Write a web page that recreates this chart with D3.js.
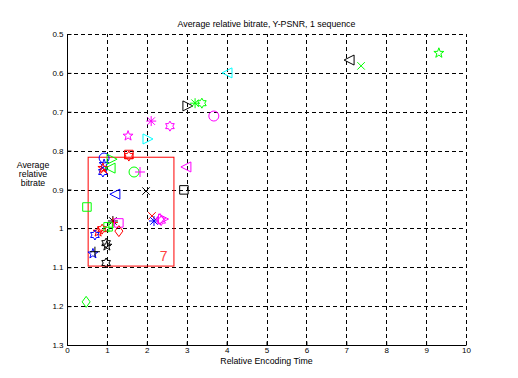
<!DOCTYPE html>
<html><head><meta charset="utf-8">
<script src="https://cdn.jsdelivr.net/npm/d3@7"></script>
<style>
body{margin:0;background:#fff;}
svg{display:block;}
text{font-family:"Liberation Sans",Arial,sans-serif;}
</style></head>
<body>
<script>
// ---- data ----
const title = "Average relative bitrate, Y-PSNR, 1 sequence";
const xLabel = "Relative Encoding Time";
const yLabelLines = ["Average", "relative", "bitrate"];
const xTicks = [0,1,2,3,4,5,6,7,8,9,10];
const yTicks = [0.5,0.6,0.7,0.8,0.9,1,1.1,1.2,1.3];
const yTickLabels = ["0.5","0.6","0.7","0.8","0.9","1","1.1","1.2","1.3"];

// each point: series key (colour+marker), x, y
const pointSeries = [
 "k-tri-left","g-x","g-pentagram","c-tri-left","k-tri-right","g-asterisk","g-hexagram",
 "m-circle","m-asterisk","m-hexagram","m-pentagram","c-tri-right","r-hexagram","r-square",
 "m-tri-left","g-circle","m-plus","b-circle","b-pentagram","b-hexagram","r-x","r-pentagram",
 "g-tri-right","g-tri-left","b-tri-left","k-x","k-square","g-square","r-x","b-asterisk",
 "m-diamond","m-tri-right","m-hexagram","k-asterisk","r-plus","m-square","r-diamond","g-square",
 "r-hexagram","r-pentagram","b-hexagram","k-hexagram","k-pentagram","b-pentagram","k-plus",
 "k-hexagram","g-diamond","g-plus"
];
const pointX = [
 7.07,7.37,9.32,4.01,3.03,3.21,3.38,
 3.68,2.11,2.58,1.53,2.03,1.55,1.55,
 2.98,1.68,1.83,0.93,0.93,0.90,0.93,0.90,
 1.13,1.08,1.20,1.98,2.93,0.50,2.13,2.18,
 2.33,2.42,2.36,1.15,1.15,1.30,1.30,1.03,
 0.88,0.78,0.70,0.98,1.00,0.65,0.70,
 0.98,0.48,1.05
];
const pointY = [
 0.567,0.582,0.549,0.600,0.685,0.678,0.678,
 0.711,0.724,0.737,0.762,0.770,0.814,0.810,
 0.842,0.855,0.855,0.819,0.835,0.855,0.850,0.845,
 0.822,0.845,0.912,0.904,0.901,0.945,0.968,0.981,
 0.976,0.976,0.980,0.981,0.985,0.986,1.007,0.996,
 1.002,1.009,1.017,1.038,1.045,1.065,1.060,
 1.089,1.189,0.997
];
const zoomBox = {x0:0.53, x1:2.68, y0:0.817, y1:1.097};
const zoomLabel = "7";
const zoomLabelPos = [2.42, 1.075];

// ---- styles ----
const colors = {k:"#000000", g:"#00ff00", m:"#ff00ff", c:"#00ffff", b:"#0000ff", r:"#ff0000"};

const W = 518, H = 378;
const M = {left:67, right:52, top:34, bottom:33};
const svg = d3.select("body").append("svg").attr("width",W).attr("height",H);

const x = d3.scaleLinear().domain([0,10]).range([M.left, W-M.right]);
const y = d3.scaleLinear().domain([0.5,1.3]).range([M.top, H-M.bottom]);

// grid
const grid = svg.append("g").attr("stroke","#000").attr("stroke-width",1).attr("stroke-dasharray","4,3").attr("shape-rendering","crispEdges");
grid.selectAll(".vx").data(xTicks.filter(d=>d>0)).join("line")
  .attr("x1",d=>Math.round(x(d))+0.5).attr("x2",d=>Math.round(x(d))+0.5)
  .attr("y1",y(1.3)).attr("y2",y(0.5));
grid.selectAll(".hy").data(yTicks.filter(d=>d<1.3)).join("line")
  .attr("y1",d=>Math.round(y(d))+0.5).attr("y2",d=>Math.round(y(d))+0.5)
  .attr("x1",x(0)).attr("x2",x(10));

// axes
const xAxis = d3.axisBottom(x).tickValues(xTicks).tickSize(-4).tickPadding(2).tickFormat(d3.format("d"));
const yAxis = d3.axisLeft(y).tickValues(yTicks).tickSize(-4).tickPadding(4).tickFormat((d,i)=>yTickLabels[i]);
const gx = svg.append("g").attr("transform",`translate(0,${Math.round(y(1.3))+0.5})`).call(xAxis);
const gy = svg.append("g").attr("transform",`translate(${Math.round(x(0))+0.5},0)`).call(yAxis);
[gx,gy].forEach(g=>{
  g.select(".domain").attr("stroke","#000");
  g.selectAll("line").attr("stroke","#000");
  g.selectAll("text").attr("font-size",8).attr("fill","#000");
});
gy.select(".domain").attr("d",`M0,${y(1.3)}V${y(0.5)}`);
gx.select(".domain").attr("d",`M${x(0)},0H${x(10)}`);

// zoom rectangle
svg.append("rect")
  .attr("x",x(zoomBox.x0)).attr("y",y(zoomBox.y0))
  .attr("width",x(zoomBox.x1)-x(zoomBox.x0)).attr("height",y(zoomBox.y1)-y(zoomBox.y0))
  .attr("fill","none").attr("stroke","#ff0000").attr("stroke-width",1);
svg.append("text").attr("x",x(zoomLabelPos[0])).attr("y",y(zoomLabelPos[1]))
  .attr("text-anchor","middle").attr("dominant-baseline","middle")
  .attr("font-size",14).attr("fill","#ff4040").text(zoomLabel);

// marker paths
const R = 5;
function star(n, ro, ri, rot){
  const pts=[];
  for(let i=0;i<2*n;i++){
    const a = rot + i*Math.PI/n;
    const r = i%2===0?ro:ri;
    pts.push([r*Math.sin(a), -r*Math.cos(a)]);
  }
  return "M"+pts.map(p=>p[0].toFixed(2)+","+p[1].toFixed(2)).join("L")+"Z";
}
function markerPath(shape){
  const r=R;
  switch(shape){
    case "circle": return `M${r},0A${r},${r} 0 1,1 ${-r},0A${r},${r} 0 1,1 ${r},0Z`;
    case "square": {const s=r*0.85; return `M${-s},${-s}H${s}V${s}H${-s}Z`;}
    case "diamond": return `M0,${-r*1.1}L${r*0.8},0L0,${r*1.1}L${-r*0.8},0Z`;
    case "tri-left": return `M${-r},0L${r},${-r}L${r},${r}Z`;
    case "tri-right": return `M${r},0L${-r},${-r}L${-r},${r}Z`;
    case "pentagram": return star(5, r*1.05, r*0.42, 0);
    case "hexagram": return star(6, r*1.0, r*0.58, 0);
    case "plus": return `M${-r},0H${r}M0,${-r}V${r}`;
    case "x": {const s=r*0.75; return `M${-s},${-s}L${s},${s}M${-s},${s}L${s},${-s}`;}
    case "asterisk": {const s=r*0.75; return `M${-r},0H${r}M0,${-r}V${r}M${-s},${-s}L${s},${s}M${-s},${s}L${s},${-s}`;}
  }
  return "";
}

const pts = pointSeries.map((s,i)=>({c:s.split("-")[0], shape:s.slice(2), x:pointX[i], y:pointY[i]}));
svg.append("g").selectAll("path").data(pts).join("path")
  .attr("transform",d=>`translate(${x(d.x)},${y(d.y)})`)
  .attr("d",d=>markerPath(d.shape))
  .attr("fill","none").attr("stroke",d=>colors[d.c]).attr("stroke-width",1);

// labels
svg.append("text").attr("x",(x(0)+x(10))/2).attr("y",27).attr("text-anchor","middle")
  .attr("font-size",8.8).attr("fill","#000").text(title);
svg.append("text").attr("x",(x(0)+x(10))/2).attr("y",364).attr("text-anchor","middle")
  .attr("font-size",8.8).attr("fill","#000").text(xLabel);
const yl = svg.append("text").attr("text-anchor","middle").attr("font-size",8.8).attr("fill","#000");
yLabelLines.forEach((t,i)=>yl.append("tspan").attr("x",33).attr("y",168+i*9).text(t));
</script>
</body></html>
